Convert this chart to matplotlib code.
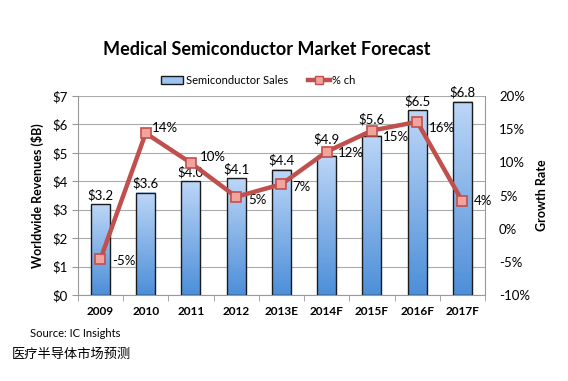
import numpy as np
import matplotlib
matplotlib.use("Agg")
import matplotlib.pyplot as plt
from matplotlib.colors import LinearSegmentedColormap
from matplotlib.patches import Patch
from matplotlib.lines import Line2D

# Daten
years = ["2009", "2010", "2011", "2012", "2013E", "2014F", "2015F", "2016F", "2017F"]
sales = [3.2, 3.6, 4.0, 4.1, 4.4, 4.9, 5.6, 6.5, 6.8]
sales_labels = ["$3.2", "$3.6", "$4.0", "$4.1", "$4.4", "$4.9", "$5.6", "$6.5", "$6.8"]
growth = [-4.6, 14.4, 9.9, 4.8, 6.7, 11.6, 14.8, 16.1, 4.1]
growth_labels = ["-5%", "14%", "10%", "5%", "7%", "12%", "15%", "16%", "4%"]
left_ticks = [0, 1, 2, 3, 4, 5, 6, 7]
right_ticks = [-10, -5, 0, 5, 10, 15, 20]

font = "Lato"
line_col = "#c0504d"
marker_face = "#f2a39c"
px = 72 / 100  # Pixel -> Punkt

# Verschiebung der Beschriftungen wie im Original (Pixel), damit nichts kollidiert
bar_lift = [0, 0, 0, 0, 0, 7, 7, 0, 0]
pct_dx = [12, 6, 9, 12, 11, 11, 11, 12, 11]
pct_dy = [-2, 5, 6, -3, -3, -1, -6, -6, 0]

fig = plt.figure(figsize=(5.68, 3.81), dpi=100)
ax = fig.add_axes([0.137, 0.2257, 0.717, 0.5223])
ax2 = ax.twinx()

x = np.arange(len(years))
w = 0.42
# Farbverlauf fuer die Balken (oben hell, unten dunkel)
cmap = LinearSegmentedColormap.from_list("bl", ["#4d8fd9", "#bcd6f7"])
grad = np.linspace(0, 1, 100).reshape(-1, 1)
for xi, h in zip(x, sales):
    ax.imshow(grad, extent=[xi - w / 2, xi + w / 2, 0, h], origin="lower",
              cmap=cmap, aspect="auto", zorder=2)
ax.bar(x, sales, width=w, facecolor="none", edgecolor="#1a1a1a", linewidth=1.0, zorder=3)
for xi, h, lab, lift in zip(x, sales, sales_labels, bar_lift):
    ax.annotate(lab, (xi, h), xytext=(0, (3 + lift) * px), textcoords="offset points",
                ha="center", va="bottom", fontsize=9.5, family=font, zorder=4)

ax.set_xlim(-0.5, len(years) - 0.5)
ax.set_ylim(0, 7)
ax.set_yticks(left_ticks)
ax.set_yticklabels(["$%d" % t for t in left_ticks], fontsize=9.5, family=font)
ax.set_xticks(x)
ax.set_xticklabels(years, fontsize=8.5, family=font, fontweight="bold")
ax.set_xticks(np.arange(-0.5, len(years)), minor=True)
ax.tick_params(axis="x", which="major", length=0, pad=8)
ax.tick_params(axis="x", which="minor", length=4, color="#999999")
ax.tick_params(axis="y", length=4, color="#999999", pad=3)
ax.grid(axis="y", color="#aaaaaa", linewidth=0.8, zorder=0)
ax.set_axisbelow(True)
for s in ax.spines.values():
    s.set_color("#999999")
ax.spines["top"].set_visible(False)
ax.set_ylabel("Worldwide Revenues ($B)", fontsize=9, family=font, fontweight="bold", labelpad=6)

ax2.plot(x, growth, color=line_col, linewidth=3.2, marker="s", markersize=7,
         markerfacecolor=marker_face, markeredgecolor=line_col, markeredgewidth=1.2, zorder=5)
for xi, g, lab, dx, dy in zip(x, growth, growth_labels, pct_dx, pct_dy):
    ax2.annotate(lab, (xi, g), xytext=(dx * px, dy * px), textcoords="offset points",
                 ha="left", va="center", fontsize=9.5, family=font)
ax2.set_ylim(-10, 20)
ax2.set_yticks(right_ticks)
ax2.set_yticklabels(["%d%%" % t for t in right_ticks], fontsize=9.5, family=font)
ax2.tick_params(axis="y", length=0, pad=10)
for s in ax2.spines.values():
    s.set_visible(False)
ax2.set_ylabel("Growth Rate", fontsize=9, family=font, fontweight="bold", labelpad=4)

fig.text(0.47, 0.869, "Medical Semiconductor Market Forecast", ha="center", va="center",
         fontsize=13, family=font, fontweight="bold")

handles = [Patch(facecolor="#9dc3f0", edgecolor="#1a1a1a", linewidth=1.0),
           Line2D([0], [0], color=line_col, linewidth=3.2, marker="s", markersize=6,
                  markerfacecolor=marker_face, markeredgecolor=line_col)]
fig.legend(handles, ["Semiconductor Sales", "% ch"], loc="center", bbox_to_anchor=(0.455, 0.79),
           ncol=2, frameon=False, prop={"family": font, "size": 8},
           handlelength=2.0, handletextpad=0.2, columnspacing=1.8)

fig.text(0.053, 0.125, "Source: IC Insights", fontsize=8, family=font, va="center")
fig.text(0.02, 0.07, "医疗半导体市场预测", fontsize=9.5,
         family=["Noto Sans CJK SC", "DejaVu Sans"], va="center")

fig.savefig("out.png", dpi=100, facecolor="white")
